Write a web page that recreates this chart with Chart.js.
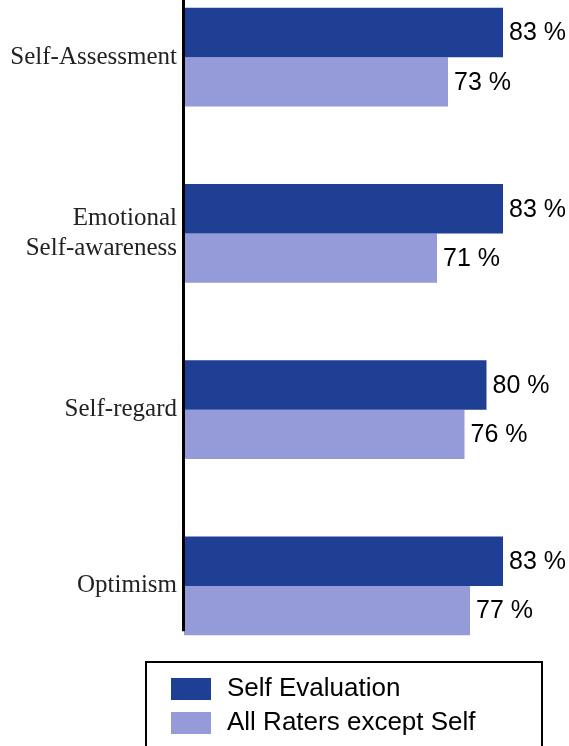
<!DOCTYPE html>
<html>
<head>
<meta charset="utf-8">
<title>Self Evaluation vs All Raters</title>
<script src="https://cdn.jsdelivr.net/npm/chart.js@4.4.1/dist/chart.umd.min.js"></script>
<style>
  html, body { margin: 0; padding: 0; background: #fff; overflow: hidden; }
  #page { position: relative; width: 569px; height: 746px; overflow: hidden; }
  /* plot is shifted up so the first group sits near the top edge */
  #wrap { position: absolute; left: 0; top: -31px; width: 569px; height: 777px; }
</style>
</head>
<body>
<div id="page"><div id="wrap"><canvas id="scoreChart"></canvas></div></div>
<script>
const competencies = ["Self-Assessment", ["Emotional", "Self-awareness"], "Self-regard", "Optimism"];
const selfScores = [83, 83, 80, 83];
const otherScores = [73, 71, 76, 77];
const seriesNames = ["Self Evaluation", "All Raters except Self"];
const seriesColors = ["#1f3f94", "#959ad8"];

const SHIFT = 31; // canvas offset above the page

// bar end labels like "83 %"
const valueLabels = {
    id: "valueLabels",
    afterDatasetsDraw(chart) {
        const ctx = chart.ctx;
        ctx.save();
        ctx.font = "25px 'Liberation Sans', Arial, sans-serif";
        ctx.fillStyle = "#000";
        ctx.textAlign = "left";
        ctx.textBaseline = "middle";
        chart.data.datasets.forEach((ds, i) => {
            chart.getDatasetMeta(i).data.forEach((bar, j) => {
                ctx.fillText(ds.data[j] + " %", bar.x + 6, bar.y + 1);
            });
        });
        ctx.restore();
    }
};

// vertical axis line, stops just above the last bar's base
const axisLine = {
    id: "axisLine",
    afterDatasetsDraw(chart) {
        const ctx = chart.ctx;
        const meta = chart.getDatasetMeta(chart.data.datasets.length - 1);
        const last = meta.data[meta.data.length - 1];
        const bottom = last.y + last.height / 2 - 4;
        ctx.save();
        ctx.strokeStyle = "#000";
        ctx.lineWidth = 3;
        ctx.beginPath();
        ctx.moveTo(chart.chartArea.left - 0.5, SHIFT);
        ctx.lineTo(chart.chartArea.left - 0.5, bottom);
        ctx.stroke();
        ctx.restore();
    }
};

// boxed legend at the bottom
const boxLegend = {
    id: "boxLegend",
    afterDraw(chart) {
        const ctx = chart.ctx;
        const top = 662 + SHIFT;
        ctx.save();
        ctx.strokeStyle = "#000";
        ctx.lineWidth = 2;
        ctx.strokeRect(146, top, 396, 100);
        ctx.font = "26px 'Liberation Sans', Arial, sans-serif";
        ctx.textAlign = "left";
        ctx.textBaseline = "middle";
        chart.data.datasets.forEach((ds, i) => {
            const y = top + 16 + i * 34;
            ctx.fillStyle = ds.backgroundColor;
            ctx.fillRect(171, y, 40, 22);
            ctx.fillStyle = "#000";
            ctx.fillText(ds.label, 227, y + 11);
        });
        ctx.restore();
    }
};

new Chart(document.getElementById("scoreChart"), {
    type: "bar",
    data: {
        labels: competencies,
        datasets: [
            { label: seriesNames[0], data: selfScores, backgroundColor: seriesColors[0] },
            { label: seriesNames[1], data: otherScores, backgroundColor: seriesColors[1] }
        ]
    },
    options: {
        indexAxis: "y",
        responsive: true,
        maintainAspectRatio: false,
        animation: false,
        layout: { padding: { top: 0, bottom: 72, left: 0, right: 0 } },
        datasets: { bar: { categoryPercentage: 0.56, barPercentage: 1.0 } },
        scales: {
            x: { min: 25, max: 95, display: false },
            y: {
                grid: { display: false, drawTicks: false },
                border: { display: false },
                afterFit(scale) {
                    scale.width = 184;
                    scale.paddingTop = 0;
                    scale.paddingBottom = 0;
                },
                ticks: {
                    padding: 7,
                    color: "#222",
                    font: { family: "'Liberation Serif', 'Times New Roman', serif", size: 25, lineHeight: 1.2 }
                }
            }
        },
        plugins: {
            legend: { display: false },
            tooltip: { enabled: false }
        }
    },
    plugins: [valueLabels, axisLine, boxLegend]
});
</script>
</body>
</html>
